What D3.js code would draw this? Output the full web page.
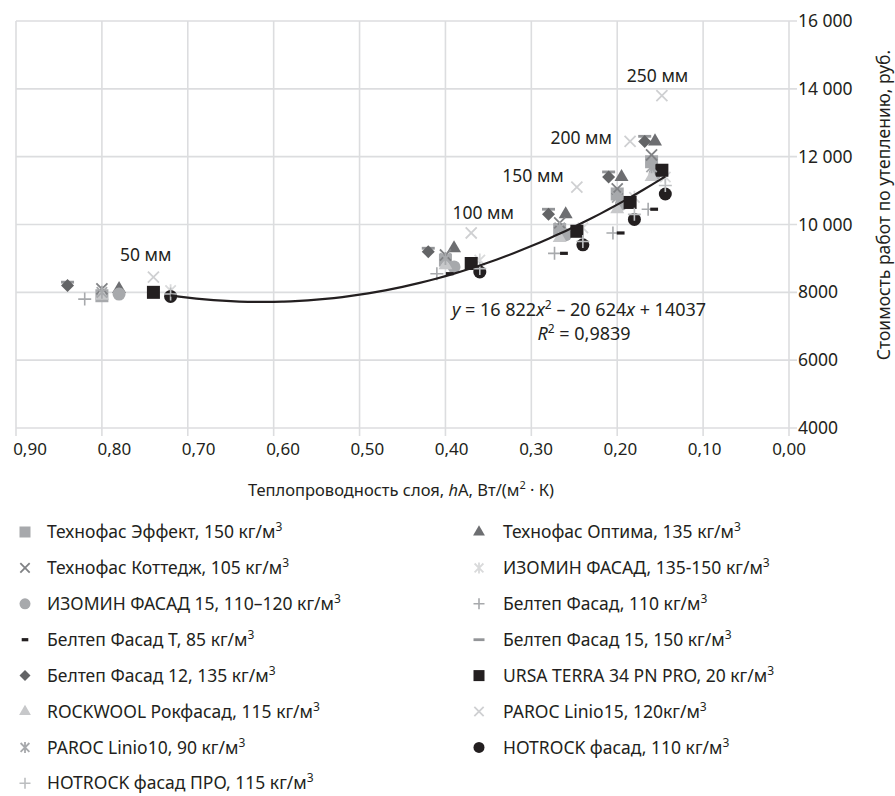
<!DOCTYPE html>
<html>
<head>
<meta charset="utf-8">
<script src="https://cdn.jsdelivr.net/npm/d3@7"></script>
<style>
  body { margin: 0; background: #fff; }
  svg text { font-family: "Noto Sans", sans-serif; fill: #231f20; }
</style>
</head>
<body>
<div id="chart"></div>
<script>
// series names (legend order, row by row)
var seriesNames = [
  ["Технофас Эффект, 150 кг/м", "3"],
  ["Технофас Оптима, 135 кг/м", "3"],
  ["Технофас Коттедж, 105 кг/м", "3"],
  ["ИЗОМИН ФАСАД, 135-150 кг/м", "3"],
  ["ИЗОМИН ФАСАД 15, 110–120 кг/м", "3"],
  ["Белтеп Фасад, 110 кг/м", "3"],
  ["Белтеп Фасад Т, 85 кг/м", "3"],
  ["Белтеп Фасад 15, 150 кг/м", "3"],
  ["Белтеп Фасад 12, 135 кг/м", "3"],
  ["URSA TERRA 34 PN PRO, 20 кг/м", "3"],
  ["ROCKWOOL Рокфасад, 115 кг/м", "3"],
  ["PAROC Linio15, 120кг/м", "3"],
  ["PAROC Linio10, 90 кг/м", "3"],
  ["HOTROCK фасад, 110 кг/м", "3"],
  ["HOTROCK фасад ПРО, 115 кг/м", "3"]
];

// thermal conductance of layer (50, 100, 150, 200, 250 mm) per series
var seriesX = [
  [0.80, 0.40, 0.267, 0.20, 0.16],
  [0.78, 0.39, 0.26, 0.195, 0.156],
  [0.80, 0.40, 0.267, 0.20, 0.16],
  [0.72, 0.36, 0.24, 0.18, 0.144],
  [0.78, 0.39, 0.26, 0.195, 0.156],
  [0.82, 0.41, 0.273, 0.205, 0.164],
  [0.80, 0.395, 0.262, 0.196, 0.157],
  [0.84, 0.42, 0.28, 0.21, 0.168],
  [0.84, 0.42, 0.28, 0.21, 0.168],
  [0.74, 0.37, 0.247, 0.185, 0.148],
  [0.80, 0.40, 0.267, 0.20, 0.16],
  [0.74, 0.37, 0.247, 0.185, 0.148],
  [0.80, 0.40, 0.267, 0.20, 0.16],
  [0.72, 0.36, 0.24, 0.18, 0.144],
  [0.72, 0.36, 0.24, 0.18, 0.144]
];

// cost of insulation works, rub
var seriesY = [
  [7900, 8950, 9850, 10900, 11850],
  [8100, 9300, 10300, 11400, 12450],
  [8100, 9100, 10050, 11050, 12050],
  [8050, 8950, 9900, 10800, 11400],
  [7950, 8750, 9700, 10600, 11500],
  [7800, 8550, 9150, 9750, 10450],
  [7850, 8550, 9150, 9750, 10450],
  [8300, 9300, 10450, 11550, 12600],
  [8200, 9200, 10300, 11400, 12450],
  [8000, 8850, 9800, 10650, 11600],
  [7900, 8800, 9600, 10450, 11400],
  [8450, 9750, 11100, 12450, 13800],
  [8000, 9000, 9900, 10800, 11700],
  [7880, 8600, 9400, 10150, 10900],
  [7950, 8700, 9500, 10300, 11150]
];

var seriesShapes = ["square", "triangle", "x", "asterisk", "circle", "plus", "dash", "longdash",
  "diamond", "square", "triangle", "x", "asterisk", "circle", "plus"];
var seriesColors = ["#a7a9ac", "#6d6e71", "#808285", "#d9dadb", "#a7a9ac", "#a7a9ac", "#231f20", "#939598",
  "#636466", "#231f20", "#c7c8ca", "#cfd0d2", "#a7a9ac", "#231f20", "#bcbec0"];

// axis ticks
var xTicks = [0.9, 0.8, 0.7, 0.6, 0.5, 0.4, 0.3, 0.2, 0.1, 0];
var yTicks = [4000, 6000, 8000, 10000, 12000, 14000, 16000];
var yTickLabels = ["4000", "6000", "8000", "10 000", "12 000", "14 000", "16 000"];

// thickness annotations
var thickLabels = ["50 мм", "100 мм", "150 мм", "200 мм", "250 мм"];
var thickX = [0.749, 0.356, 0.298, 0.242, 0.153];
var thickY = [9100, 10350, 11420, 12540, 14380];

// polynomial trend: y = a x^2 + b x + c
var trendCoef = [16822, -20624, 14037];
var trendRange = [0.72, 0.144];

var width = 895, height = 796;
var svg = d3.select("#chart").append("svg")
    .attr("width", width)
    .attr("height", height);

var x = d3.scaleLinear().domain([0.9, 0]).range([16, 789]);
var xLab = d3.scaleLinear().domain([0.9, 0]).range([30, 789]);
var y = d3.scaleLinear().domain([4000, 16000]).range([428, 21]);

var gridColor = "#dcdddf";
var fs = "17.5px", supFs = "12px";

// grid
svg.append("g").selectAll("line.vg")
    .data(xTicks)
  .enter().append("line")
    .attr("x1", function(d) { return x(d); })
    .attr("x2", function(d) { return x(d); })
    .attr("y1", y(16000))
    .attr("y2", y(4000) + 8)
    .style("stroke", gridColor)
    .style("stroke-width", 1.6);

svg.append("g").selectAll("line.hg")
    .data(yTicks)
  .enter().append("line")
    .attr("x1", x(0.9))
    .attr("x2", x(0) + 8)
    .attr("y1", function(d) { return y(d); })
    .attr("y2", function(d) { return y(d); })
    .style("stroke", gridColor)
    .style("stroke-width", 1.6);

// x tick labels
svg.append("g").selectAll("text")
    .data(xTicks)
  .enter().append("text")
    .attr("x", function(d) { return xLab(d); })
    .attr("y", 455)
    .style("text-anchor", "middle")
    .style("font-size", "17px")
    .text(function(d) { return d3.format(".2f")(d).replace(".", ","); });

// y tick labels (right)
svg.append("g").selectAll("text")
    .data(yTicks)
  .enter().append("text")
    .attr("x", x(0) + 9)
    .attr("y", function(d) { return y(d); })
    .attr("dy", ".35em")
    .style("font-size", "17.5px")
    .text(function(d, i) { return yTickLabels[i]; });

// axis titles
var xt = svg.append("text")
    .attr("x", 401)
    .attr("y", 496)
    .style("text-anchor", "middle")
    .style("font-size", "16.5px");
xt.append("tspan").text("Теплопроводность слоя, ");
xt.append("tspan").style("font-style", "italic").text("h");
xt.append("tspan").text("A, Вт/(м");
xt.append("tspan").attr("dy", -7).style("font-size", "11px").text("2");
xt.append("tspan").attr("dy", 7).text(" · К)");

svg.append("text")
    .attr("transform", "translate(890,205) rotate(-90)")
    .style("text-anchor", "middle")
    .style("font-size", "17.5px")
    .text("Стоимость работ по утеплению, руб.");

// marker drawing
function drawMarker(g, shape, s, color) {
  var h = s / 2;
  if (shape === "square") {
    g.append("rect").attr("x", -h).attr("y", -h).attr("width", s).attr("height", s).style("fill", color);
  } else if (shape === "triangle") {
    g.append("path").attr("d", d3.symbol(d3.symbolTriangle, s * s * 0.5)()).style("fill", color);
  } else if (shape === "diamond") {
    g.append("path").attr("d", "M0," + (-h) + "L" + h + ",0L0," + h + "L" + (-h) + ",0Z").style("fill", color);
  } else if (shape === "circle") {
    g.append("circle").attr("r", h).style("fill", color);
  } else if (shape === "x") {
    var a = h * 0.85;
    g.append("path").attr("d", "M" + (-a) + "," + (-a) + "L" + a + "," + a + "M" + (-a) + "," + a + "L" + a + "," + (-a))
      .style("stroke", color).style("stroke-width", 1.8).style("fill", "none");
  } else if (shape === "asterisk") {
    var b = h * 0.8;
    g.append("path").attr("d", "M" + (-b) + "," + (-b) + "L" + b + "," + b + "M" + (-b) + "," + b + "L" + b + "," + (-b) +
      "M0," + (-h) + "L0," + h)
      .style("stroke", color).style("stroke-width", 1.8).style("fill", "none");
  } else if (shape === "plus") {
    g.append("path").attr("d", "M" + (-h) + ",0L" + h + ",0M0," + (-h) + "L0," + h)
      .style("stroke", color).style("stroke-width", 1.6).style("fill", "none");
  } else if (shape === "dash") {
    g.append("rect").attr("x", -s * 0.3).attr("y", -1.6).attr("width", s * 0.6).attr("height", 3.2).style("fill", color);
  } else if (shape === "longdash") {
    g.append("rect").attr("x", -h).attr("y", -1.4).attr("width", s).attr("height", 2.8).style("fill", color);
  }
}

// data points
var plot = svg.append("g").attr("class", "points");
seriesNames.forEach(function(name, i) {
  var pts = seriesX[i].map(function(v, j) { return {x: v, y: seriesY[i][j]}; });
  plot.append("g")
      .selectAll("g")
      .data(pts)
    .enter().append("g")
      .attr("transform", function(d) { return "translate(" + x(d.x) + "," + y(d.y) + ")"; })
      .each(function() { drawMarker(d3.select(this), seriesShapes[i], 13, seriesColors[i]); });
});

// trend line
var trend = d3.range(trendRange[0], trendRange[1] - 0.001, -0.01).concat([trendRange[1]]);
var trendLine = d3.line()
    .x(function(d) { return x(d); })
    .y(function(d) { return y(trendCoef[0] * d * d + trendCoef[1] * d + trendCoef[2]); })
    .curve(d3.curveMonotoneX);
svg.append("path")
    .datum(trend)
    .attr("d", trendLine)
    .style("fill", "none")
    .style("stroke", "#231f20")
    .style("stroke-width", 2.2);

// thickness labels
svg.append("g").selectAll("text")
    .data(thickLabels)
  .enter().append("text")
    .attr("x", function(d, i) { return x(thickX[i]); })
    .attr("y", function(d, i) { return y(thickY[i]); })
    .attr("dy", ".35em")
    .style("text-anchor", "middle")
    .style("font-size", "17.5px")
    .text(function(d) { return d; });

// equation
var eq = svg.append("text")
    .attr("x", 579)
    .attr("y", 316)
    .style("text-anchor", "middle")
    .style("font-size", "18px");
eq.append("tspan").style("font-style", "italic").text("y");
eq.append("tspan").text(" = 16 822");
eq.append("tspan").style("font-style", "italic").text("x");
eq.append("tspan").attr("dy", -7).style("font-size", supFs).text("2");
eq.append("tspan").attr("dy", 7).text(" – 20 624");
eq.append("tspan").style("font-style", "italic").text("x");
eq.append("tspan").text(" + 14037");

var r2 = svg.append("text")
    .attr("x", 584)
    .attr("y", 340)
    .style("text-anchor", "middle")
    .style("font-size", "18px");
r2.append("tspan").style("font-style", "italic").text("R");
r2.append("tspan").attr("dy", -7).style("font-size", supFs).text("2");
r2.append("tspan").attr("dy", 7).text(" = 0,9839");

// legend
var legend = svg.selectAll(".legend")
    .data(seriesNames)
  .enter().append("g")
    .attr("class", "legend")
    .attr("transform", function(d, i) {
      var col = i % 2, row = Math.floor(i / 2);
      return "translate(" + (col ? 479 : 25) + "," + (532 + row * 35.9) + ")";
    });

legend.each(function(d, i) { drawMarker(d3.select(this), seriesShapes[i], 11, seriesColors[i]); });

var lt = legend.append("text")
    .attr("x", function(d, i) { return i % 2 ? 24 : 22; })
    .attr("dy", ".35em")
    .style("font-size", fs);
lt.append("tspan").text(function(d) { return d[0]; });
lt.append("tspan").attr("dy", -7).style("font-size", supFs).text(function(d) { return d[1]; });
</script>
</body>
</html>
